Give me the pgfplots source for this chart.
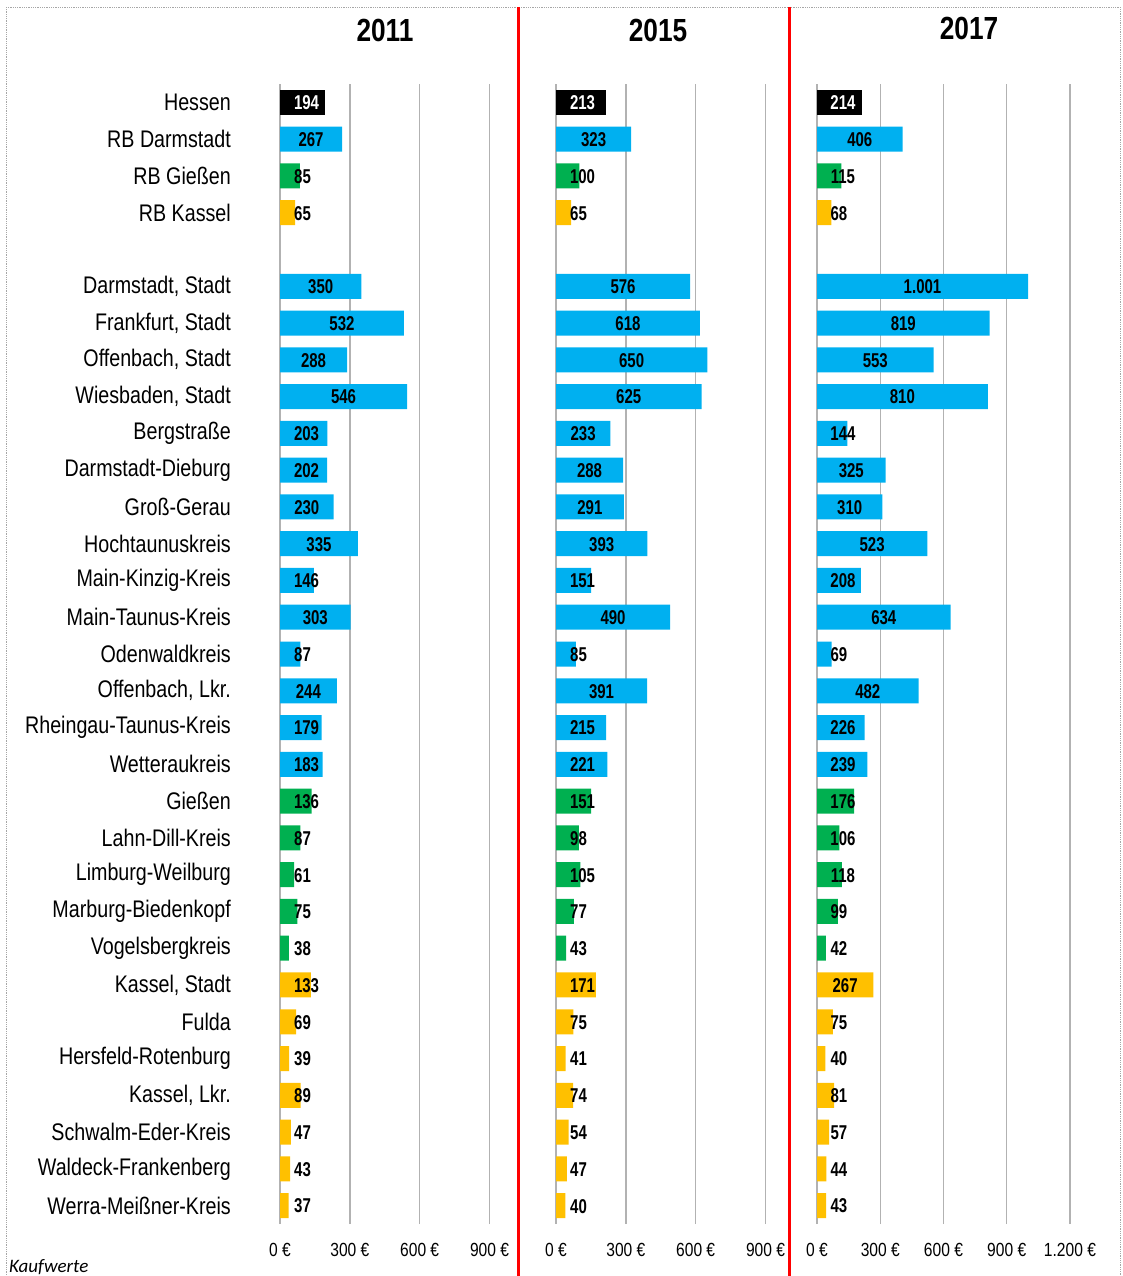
\documentclass[border=0pt]{standalone}
\usepackage{fontspec}
\setmainfont{Liberation Sans}[FakeStretch=0.82]
\newfontfamily\lblfont{Liberation Sans}[FakeStretch=0.75]
\newfontfamily\calibri{Carlito}
\usepackage{pgfplots}
\pgfplotsset{compat=1.18}
\usepackage{pgfplotstable}

\definecolor{xblue}{RGB}{0,176,240}
\definecolor{xgreen}{RGB}{0,176,80}
\definecolor{xyellow}{RGB}{255,192,0}
\definecolor{gridgray}{RGB}{178,178,178}

% y = 30 - row index (row 0 = Hessen at the top)
\pgfplotstableread{
y a b c
30 194 213 214
}\hessen
\pgfplotstableread{
y a b c
29 267 323 406
25 350 576 1001
24 532 618 819
23 288 650 553
22 546 625 810
21 203 233 144
20 202 288 325
19 230 291 310
18 335 393 523
17 146 151 208
16 303 490 634
15 87 85 69
14 244 391 482
13 179 215 226
12 183 221 239
}\blue
\pgfplotstableread{
y a b c
28 85 100 115
11 136 151 176
10 87 98 106
9 61 105 118
8 75 77 99
7 38 43 42
}\green
\pgfplotstableread{
y a b c
27 65 65 68
6 133 171 267
5 69 75 75
4 39 41 40
3 89 74 81
2 47 54 57
1 43 47 44
0 37 40 43
}\yellow

\pgfplotsset{
  panel/.style={
    scale only axis, height=1140pt,
    ymin=-0.5, ymax=30.5, xmin=0,
    axis line style={draw=none}, tick style={draw=none},
    xmajorgrids, grid style={gridgray, line width=1.4pt},
    /pgf/number format/.cd, 1000 sep={.}, assume math mode=true, /pgfplots/.cd,
    xticklabel={\pgfmathprintnumber{\tick}~€},
    xticklabel style={font=\fontsize{19}{21}\selectfont, anchor=center, yshift=-26pt},
  },
  bars/.style={xbar, bar width=25pt, bar shift=0pt, draw=none, fill=#1},
  lbl/.style={only marks, mark=none, nodes near coords, point meta=explicit,
    every node near coord/.append style={anchor=center, text=#1, yshift=-0.5pt,
      font=\lblfont\bfseries\fontsize{20}{22}\selectfont}},
}

% #1 column, #2 threshold 2-digit, #3 threshold 3-digit
\newcommand\panelplots[3]{%
  \addplot[bars=black] table[x=#1, y=y] {\hessen};
  \addplot[bars=xblue] table[x=#1, y=y] {\blue};
  \addplot[bars=xgreen] table[x=#1, y=y] {\green};
  \addplot[bars=xyellow] table[x=#1, y=y] {\yellow};
  \addplot[lbl=white] table[x expr={max(\thisrow{#1}/2, (\thisrow{#1}<100) ? #2 : #3)}, y=y, meta=#1] {\hessen};
  \addplot[lbl=black] table[x expr={max(\thisrow{#1}/2, (\thisrow{#1}<100) ? #2 : #3)}, y=y, meta=#1] {\blue};
  \addplot[lbl=black] table[x expr={max(\thisrow{#1}/2, (\thisrow{#1}<100) ? #2 : #3)}, y=y, meta=#1] {\green};
  \addplot[lbl=black] table[x expr={max(\thisrow{#1}/2, (\thisrow{#1}<100) ? #2 : #3)}, y=y, meta=#1] {\yellow};
}

\begin{document}
\begin{tikzpicture}
\path[use as bounding box] (0pt,0pt) rectangle (1122pt,-1276pt);
\draw[gray!70, densely dotted, line width=0.8pt] (6pt,-7pt) rectangle (1120pt,-1300pt);

\begin{axis}[panel, at={(280pt,-1224pt)}, anchor=south west,
  width=232.8pt, xmax=1000, xtick={0,300,600,900},
  ytick={0,1,2,3,4,5,6,7,8,9,10,11,12,13,14,15,16,17,18,19,20,21,22,23,24,25,27,28,29,30},
  yticklabels={Werra-Meißner-Kreis, Waldeck-Frankenberg, Schwalm-Eder-Kreis, {Kassel, Lkr.},
    Hersfeld-Rotenburg, Fulda, {Kassel, Stadt}, Vogelsbergkreis, Marburg-Biedenkopf,
    Limburg-Weilburg, Lahn-Dill-Kreis, Gießen, Wetteraukreis, Rheingau-Taunus-Kreis,
    {Offenbach, Lkr.}, Odenwaldkreis, Main-Taunus-Kreis, Main-Kinzig-Kreis, Hochtaunuskreis,
    Groß-Gerau, Darmstadt-Dieburg, Bergstraße, {Wiesbaden, Stadt}, {Offenbach, Stadt},
    {Frankfurt, Stadt}, {Darmstadt, Stadt}, RB Kassel, RB Gießen, RB Darmstadt, Hessen},
  yticklabel style={font=\fontsize{24}{26}\selectfont, anchor=east, inner sep=0pt, xshift=-49pt},
]
\panelplots{a}{97}{114}
\end{axis}

\begin{axis}[panel, at={(556pt,-1224pt)}, anchor=south west,
  width=232.8pt, xmax=1000, xtick={0,300,600,900}, ytick=\empty]
\panelplots{b}{97}{114}
\end{axis}

\begin{axis}[panel, at={(817pt,-1224pt)}, anchor=south west,
  width=295.1pt, xmax=1400, xtick={0,300,600,900,1200}, ytick=\empty]
\panelplots{c}{104}{123}
\end{axis}

\draw[red, line width=2.6pt] (518.5pt,-7pt) -- (518.5pt,-1290pt);
\draw[red, line width=2.6pt] (789.5pt,-7pt) -- (789.5pt,-1290pt);

\node[font=\bfseries\fontsize{32}{34}\selectfont] at (385pt,-30pt) {2011};
\node[font=\bfseries\fontsize{32}{34}\selectfont] at (658pt,-30pt) {2015};
\node[font=\bfseries\fontsize{32}{34}\selectfont] at (969pt,-28pt) {2017};
\node[anchor=base west, inner sep=0pt, font=\calibri\itshape\fontsize{19}{21}\selectfont] at (9pt,-1272pt) {Kaufwerte};
\end{tikzpicture}
\end{document}
